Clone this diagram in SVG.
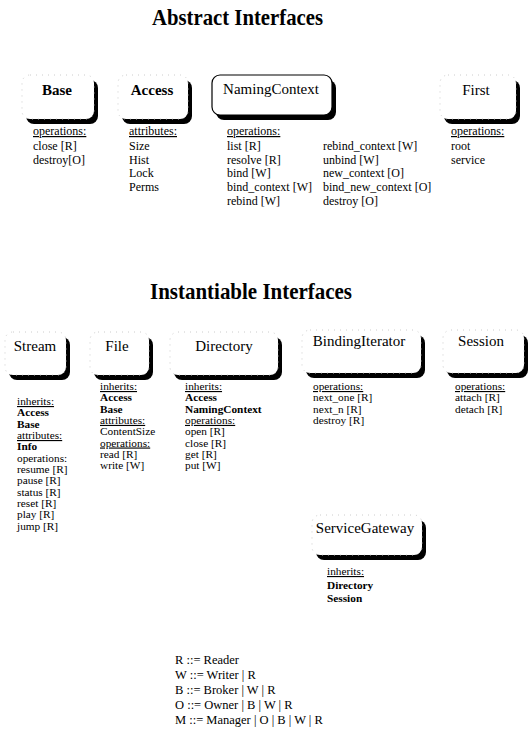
<svg xmlns="http://www.w3.org/2000/svg" width="528" height="740" viewBox="0 0 528 740">
<style>
text{font-family:"Liberation Serif","Times New Roman",serif;fill:#000}
.title{font-size:23px;font-weight:bold}
.lbl{font-size:15px;text-anchor:middle}
.t{font-size:12px}
.s{font-size:11.3px}
.lg{font-size:12.5px}
.u{text-decoration:underline}
.b{font-weight:bold}
.sh{fill:#000}
.bx{fill:#fff;stroke:#ccc;stroke-width:1;stroke-dasharray:1 5}
.bxs{fill:#fff;stroke:#000;stroke-width:1.2}
</style>
<rect width="528" height="740" fill="#fff"/>
<text class="title" x="152" y="25" textLength="171" lengthAdjust="spacingAndGlyphs">Abstract Interfaces</text>
<text class="title" x="150" y="299" textLength="202" lengthAdjust="spacingAndGlyphs">Instantiable Interfaces</text>

<g id="Base">
<rect class="sh" x="26" y="80" width="72" height="44" rx="8"/>
<rect class="bx" x="22" y="75" width="72" height="44" rx="8"/>
<text class="lbl b" x="57" y="95">Base</text>
<text class="t u" x="33" y="135">operations:</text>
<text class="t" x="33" y="150">close [R]</text>
<text class="t" x="33" y="163.7">destroy[O]</text>
</g>

<g id="Access">
<rect class="sh" x="122" y="80" width="70" height="44" rx="8"/>
<rect class="bx" x="118" y="75" width="70" height="44" rx="8"/>
<text class="lbl b" x="152" y="95">Access</text>
<text class="t u" x="129" y="135">attributes:</text>
<text class="t" x="129" y="150">Size</text>
<text class="t" x="129" y="163.7">Hist</text>
<text class="t" x="129" y="177.4">Lock</text>
<text class="t" x="129" y="191.1">Perms</text>
</g>

<g id="NamingContext">
<rect class="sh" x="216" y="80" width="120" height="40" rx="8"/>
<rect class="bxs" x="212" y="75" width="120" height="40" rx="8"/>
<text class="lbl" x="271" y="94">NamingContext</text>
<text class="t u" x="227" y="135">operations:</text>
<text class="t" x="227" y="150">list [R]</text>
<text class="t" x="227" y="163.7">resolve [R]</text>
<text class="t" x="227" y="177.4">bind [W]</text>
<text class="t" x="227" y="191.1">bind_context [W]</text>
<text class="t" x="227" y="204.8">rebind [W]</text>
<text class="t" x="323" y="150">rebind_context [W]</text>
<text class="t" x="323" y="163.7">unbind [W]</text>
<text class="t" x="323" y="177.4">new_context [O]</text>
<text class="t" x="323" y="191.1">bind_new_context [O]</text>
<text class="t" x="323" y="204.8">destroy [O]</text>
</g>

<g id="First">
<rect class="sh" x="444" y="80" width="76" height="44" rx="8"/>
<rect class="bx" x="440" y="75" width="76" height="44" rx="8"/>
<text class="lbl" x="476" y="95">First</text>
<text class="t u" x="451" y="135">operations:</text>
<text class="t" x="451" y="150">root</text>
<text class="t" x="451" y="163.7">service</text>
</g>

<g id="Stream">
<rect class="sh" x="9" y="337" width="61" height="43" rx="8"/>
<rect class="bx" x="5" y="332" width="61" height="43" rx="8"/>
<text class="lbl" x="35" y="351">Stream</text>
<text class="s u" x="17" y="405">inherits:</text>
<text class="s b" x="17" y="416">Access</text>
<text class="s b" x="17" y="427.5">Base</text>
<text class="s u" x="17" y="439">attributes:</text>
<text class="s b" x="17" y="450">Info</text>
<text class="s" x="17" y="461.5">operations:</text>
<text class="s" x="17" y="473">resume [R]</text>
<text class="s" x="17" y="484">pause [R]</text>
<text class="s" x="17" y="495.5">status [R]</text>
<text class="s" x="17" y="507">reset [R]</text>
<text class="s" x="17" y="518">play [R]</text>
<text class="s" x="17" y="529.5">jump [R]</text>
</g>

<g id="File">
<rect class="sh" x="94" y="337" width="59" height="43" rx="8"/>
<rect class="bx" x="90" y="332" width="59" height="43" rx="8"/>
<text class="lbl" x="117" y="351">File</text>
<text class="s u" x="100" y="390">inherits:</text>
<text class="s b" x="100" y="401.3">Access</text>
<text class="s b" x="100" y="412.6">Base</text>
<text class="s u" x="100" y="423.9">attributes:</text>
<text class="s" x="100" y="435.2">ContentSize</text>
<text class="s u" x="100" y="446.5">operations:</text>
<text class="s" x="100" y="457.8">read [R]</text>
<text class="s" x="100" y="469.1">write [W]</text>
</g>

<g id="Directory">
<rect class="sh" x="174" y="337" width="108" height="43" rx="8"/>
<rect class="bx" x="170" y="332" width="108" height="43" rx="8"/>
<text class="lbl" x="224" y="351">Directory</text>
<text class="s u" x="185" y="390">inherits:</text>
<text class="s b" x="185" y="401.3">Access</text>
<text class="s b" x="185" y="412.6">NamingContext</text>
<text class="s u" x="185" y="423.9">operations:</text>
<text class="s" x="185" y="435.2">open [R]</text>
<text class="s" x="185" y="446.5">close [R]</text>
<text class="s" x="185" y="457.8">get [R]</text>
<text class="s" x="185" y="469.1">put [W]</text>
</g>

<g id="BindingIterator">
<rect class="sh" x="306" y="335" width="119" height="43" rx="8"/>
<rect class="bx" x="302" y="330" width="119" height="43" rx="8"/>
<text class="lbl" x="359" y="346">BindingIterator</text>
<text class="s u" x="313" y="390">operations:</text>
<text class="s" x="313" y="401.3">next_one [R]</text>
<text class="s" x="313" y="412.6">next_n [R]</text>
<text class="s" x="313" y="423.9">destroy [R]</text>
</g>

<g id="Session">
<rect class="sh" x="447" y="335" width="81" height="43" rx="8"/>
<rect class="bx" x="443" y="330" width="81" height="43" rx="8"/>
<text class="lbl" x="481" y="346">Session</text>
<text class="s u" x="455" y="390">operations:</text>
<text class="s" x="455" y="401.3">attach [R]</text>
<text class="s" x="455" y="412.6">detach [R]</text>
</g>

<g id="ServiceGateway">
<rect class="sh" x="316" y="520" width="110" height="40" rx="8"/>
<rect class="bx" x="312" y="515" width="110" height="40" rx="8"/>
<text class="lbl" x="365" y="533">ServiceGateway</text>
<text class="s u" x="327" y="575">inherits:</text>
<text class="s b" x="327" y="588.5">Directory</text>
<text class="s b" x="327" y="602">Session</text>
</g>

<g id="legend">
<text class="lg" x="175" y="664">R ::= Reader</text>
<text class="lg" x="175" y="679">W ::= Writer | R</text>
<text class="lg" x="175" y="694">B ::= Broker | W | R</text>
<text class="lg" x="175" y="709">O ::= Owner | B | W | R</text>
<text class="lg" x="175" y="724">M ::= Manager | O | B | W | R</text>
</g>
<g id="connectors"></g>
</svg>
